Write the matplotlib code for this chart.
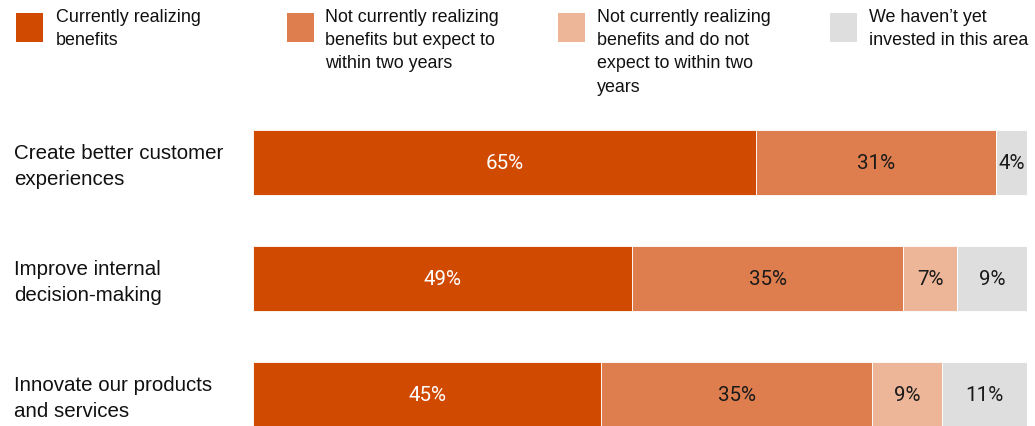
import matplotlib
matplotlib.use("Agg")
import matplotlib.pyplot as plt
from matplotlib.patches import Rectangle

categories = ["Create better customer\nexperiences",
              "Improve internal\ndecision-making",
              "Innovate our products\nand services"]
series_names = ["Currently realizing\nbenefits",
                "Not currently realizing\nbenefits but expect to\nwithin two years",
                "Not currently realizing\nbenefits and do not\nexpect to within two\nyears",
                "We haven\u2019t yet\ninvested in this area"]
realizing = [65, 49, 45]
expect = [31, 35, 35]
not_expect = [0, 7, 9]
not_invested = [4, 9, 11]
series_values = [realizing, expect, not_expect, not_invested]
colors = ["#D04A02", "#DE7E4F", "#EDB698", "#DEDEDE"]
label_colors = ["white", "#1a1a1a", "#1a1a1a", "#1a1a1a"]

W, H = 1035, 427
fig = plt.figure(figsize=(W / 100, H / 100), dpi=100)

# axes: x 0..100 maps to px 253..1027; bar centers at px 163.5 + 116*i
ax_left, ax_right = 253, 1027
ax_top, ax_bottom = 105, 427
ax = fig.add_axes([ax_left / W, 1 - ax_bottom / H, (ax_right - ax_left) / W, (ax_bottom - ax_top) / H])
y0 = -(163.5 - ax_top) / 116
y1 = 2 + (ax_bottom - 395.5) / 116
ax.set_xlim(0, 100)
ax.set_ylim(y1, y0)

ypos = list(range(len(categories)))
lefts = [0] * len(categories)
for vals, col, lc in zip(series_values, colors, label_colors):
    ax.barh(ypos, vals, left=lefts, height=65 / 116, color=col,
            edgecolor="white", linewidth=0.6)
    for i, (v, l) in enumerate(zip(vals, lefts)):
        if v > 0:
            ax.text(l + v / 2, ypos[i], f"{v}%", ha="center", va="center",
                    color=lc, fontsize=14.8, family="Roboto")
    lefts = [a + b for a, b in zip(lefts, vals)]

for spine in ax.spines.values():
    spine.set_visible(False)
ax.set_xticks([])
ax.set_yticks([])

# category labels
for i, cat in enumerate(categories):
    yc = 163.5 + 116 * i + 3
    fig.text(14 / W, 1 - yc / H, cat, ha="left", va="center", fontsize=14.8,
             family="Liberation Sans", color="#111111", linespacing=1.5)

# legend
sq_x = [16, 287, 558, 830]
txt_x = [56, 325, 597, 869]
for sx, tx, name, col in zip(sq_x, txt_x, series_names, colors):
    fig.add_artist(Rectangle((sx / W, 1 - 43 / H), 27 / W, 29 / H,
                             transform=fig.transFigure, facecolor=col,
                             edgecolor="none"))
    fig.text(tx / W, 1 - 9 / H, name, ha="left", va="top", fontsize=12.9,
             family="Liberation Sans", color="#111111", linespacing=1.48)

fig.savefig("out.png", dpi=100)
